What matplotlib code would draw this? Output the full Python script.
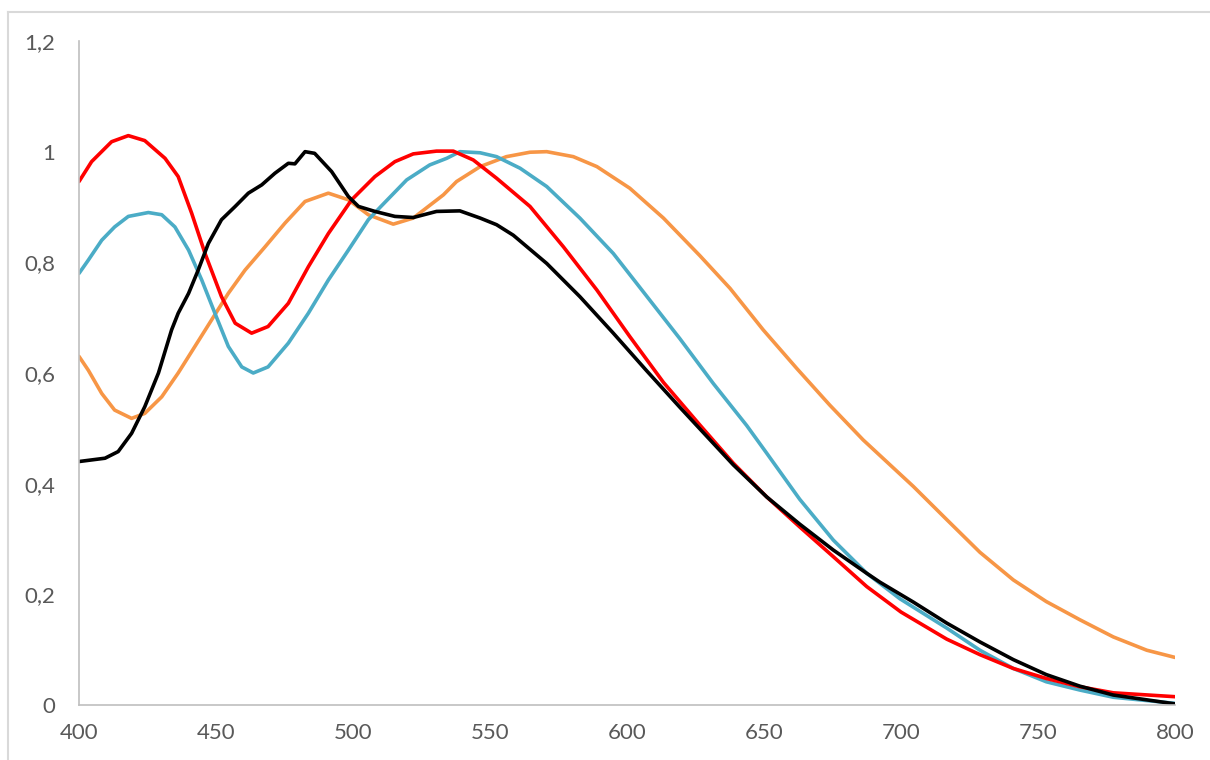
import matplotlib
matplotlib.use("Agg")
import matplotlib.pyplot as plt
from matplotlib.lines import Line2D
from matplotlib.ticker import FuncFormatter

red_x = [400, 404.6, 411.9, 418, 424, 431.4, 436.2, 441.1, 446, 452, 457, 463, 469, 476.4,
         483.7, 491, 499.5, 508, 515.3, 522, 530.5, 536.6, 543.9, 552.4, 564.6, 576.8, 589,
         601, 613.3, 626.6, 638.8, 651, 663, 675.3, 687.5, 700, 716.7, 728.8, 741, 753,
         765.3, 777.5, 800]
red_y = [0.946, 0.982, 1.018, 1.029, 1.020, 0.988, 0.955, 0.889, 0.816, 0.738, 0.690, 0.672,
         0.684, 0.726, 0.792, 0.852, 0.913, 0.955, 0.982, 0.996, 1.001, 1.001, 0.985, 0.952,
         0.901, 0.828, 0.750, 0.666, 0.583, 0.506, 0.437, 0.376, 0.322, 0.268, 0.214, 0.168,
         0.119, 0.091, 0.066, 0.048, 0.033, 0.022, 0.015]

black_x = [400, 409.5, 414.3, 419.2, 424, 429, 433.8, 436.2, 440, 443.5, 447.2, 452, 457,
           461.8, 466.7, 471.5, 476.4, 478.8, 482.5, 486, 492.2, 498.3, 502, 508, 515.3, 522,
           530.5, 539, 546.4, 552.4, 558.5, 570.7, 582.8, 595, 607, 619.3, 626.6, 638.8, 651,
           663, 675.3, 687.5, 692.3, 704.5, 716.7, 728.8, 741, 753, 765.3, 777.5, 800]
black_y = [0.440, 0.446, 0.458, 0.491, 0.539, 0.600, 0.678, 0.708, 0.744, 0.786, 0.834, 0.877,
           0.901, 0.925, 0.940, 0.961, 0.979, 0.978, 1.000, 0.997, 0.964, 0.919, 0.901, 0.892,
           0.883, 0.881, 0.892, 0.893, 0.880, 0.868, 0.849, 0.798, 0.738, 0.672, 0.605, 0.538,
           0.499, 0.434, 0.376, 0.327, 0.280, 0.238, 0.222, 0.186, 0.148, 0.114, 0.082, 0.055,
           0.034, 0.018, 0.002]

cyan_x = [400, 403.4, 408.3, 413, 418, 425.3, 430.2, 435, 440, 444.8, 449.6, 454.5, 459.4,
          463.6, 469, 476.4, 483.7, 491, 498.3, 505.6, 510, 519.6, 528, 534.2, 539, 546.4,
          552.4, 561, 570.7, 582.8, 595, 607, 619.3, 631.5, 643.7, 651, 663, 675.3, 687.5,
          699.6, 716.7, 728.8, 741, 753, 765.3, 777.5, 800]
cyan_y = [0.780, 0.804, 0.840, 0.864, 0.883, 0.890, 0.886, 0.864, 0.822, 0.768, 0.708, 0.648,
          0.611, 0.600, 0.611, 0.654, 0.708, 0.768, 0.822, 0.877, 0.900, 0.949, 0.976, 0.988,
          1.000, 0.998, 0.991, 0.970, 0.937, 0.880, 0.816, 0.740, 0.662, 0.581, 0.505, 0.455,
          0.372, 0.298, 0.238, 0.192, 0.139, 0.099, 0.066, 0.042, 0.027, 0.014, 0.003]

orange_x = [400, 403.4, 408.3, 413, 419.2, 424, 430.2, 436.2, 442.3, 448.4, 454.5, 460.6,
            467.9, 475.2, 482.5, 491, 498.3, 505.6, 514.7, 522, 533, 537.8, 546.4, 556,
            564.6, 570.7, 580.4, 589, 601, 613.3, 626.6, 637.6, 649.7, 662, 674, 686.2, 698.4,
            704.5, 716.7, 728.8, 741, 753, 765.3, 777.5, 789.7, 800]
orange_y = [0.630, 0.605, 0.563, 0.533, 0.518, 0.527, 0.557, 0.600, 0.648, 0.696, 0.744,
            0.786, 0.828, 0.871, 0.910, 0.925, 0.913, 0.886, 0.869, 0.880, 0.922, 0.946,
            0.973, 0.991, 0.999, 1.000, 0.991, 0.973, 0.934, 0.880, 0.812, 0.753, 0.678,
            0.608, 0.542, 0.479, 0.423, 0.395, 0.335, 0.276, 0.226, 0.187, 0.154, 0.123,
            0.099, 0.086]

x_ticks = [400, 450, 500, 550, 600, 650, 700, 750, 800]
y_ticks = [0, 0.2, 0.4, 0.6, 0.8, 1.0, 1.2]

plt.rcParams["font.family"] = ["Lato", "DejaVu Sans"]

fig = plt.figure(figsize=(12.1, 7.6), dpi=100)
ax = fig.add_axes([79 / 1210, 55 / 760, (1175 - 79) / 1210, (705 - 41) / 760])

lw = 2.6
ax.plot(orange_x, orange_y, color="#F79646", lw=lw, solid_capstyle="round", solid_joinstyle="round")
ax.plot(cyan_x, cyan_y, color="#4BACC6", lw=lw, solid_capstyle="round", solid_joinstyle="round")
ax.plot(red_x, red_y, color="#FF0000", lw=lw, solid_capstyle="round", solid_joinstyle="round")
ax.plot(black_x, black_y, color="#000000", lw=lw, solid_capstyle="round", solid_joinstyle="round")

ax.set_xlim(400, 800)
ax.set_ylim(0, 1.2)
ax.set_xticks(x_ticks)
ax.set_yticks(y_ticks)
ax.yaxis.set_major_formatter(FuncFormatter(lambda v, p: ("%g" % round(v, 1)).replace(".", ",")))
ax.tick_params(axis="both", length=0, labelsize=16, colors="#595959")
ax.tick_params(axis="y", pad=17)
ax.tick_params(axis="x", pad=13)

for s in ["top", "right"]:
    ax.spines[s].set_visible(False)
for s in ["left", "bottom"]:
    ax.spines[s].set_color("#BFBFBF")
    ax.spines[s].set_linewidth(1.2)

# chart area border (only top and left edges visible in the crop)
fig.add_artist(Line2D([8 / 1210, 1], [1 - 12 / 760, 1 - 12 / 760], color="#D9D9D9", lw=1.5))
fig.add_artist(Line2D([8 / 1210, 8 / 1210], [0, 1 - 12 / 760], color="#D9D9D9", lw=1.5))

fig.savefig("out.png", dpi=100)
